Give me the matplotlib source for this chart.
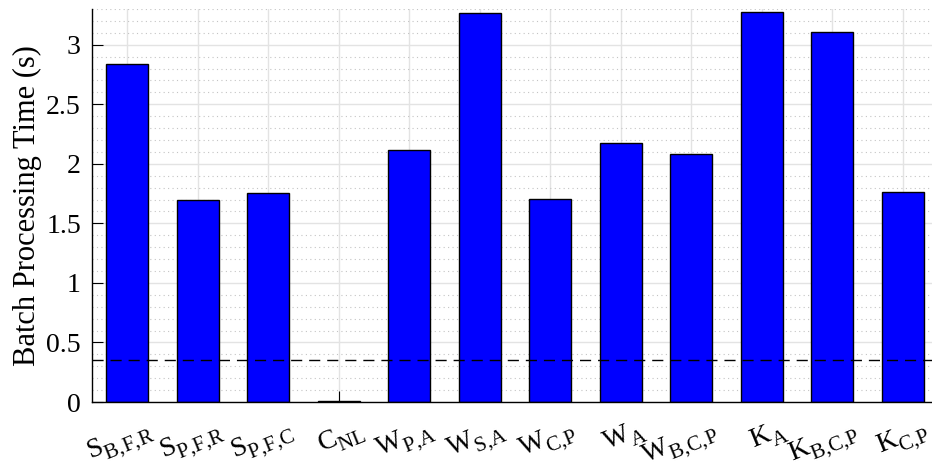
import numpy as np
import matplotlib.pyplot as plt
import matplotlib.transforms as mtransforms
import matplotlib._mathtext as mathtext_core
from matplotlib.ticker import MultipleLocator

plt.rcParams['font.family'] = 'Liberation Serif'
plt.rcParams['mathtext.fontset'] = 'custom'
plt.rcParams['mathtext.rm'] = 'Liberation Serif'
plt.rcParams['mathtext.it'] = 'Liberation Serif'
plt.rcParams['mathtext.default'] = 'rm'
# larger, lower subscripts in the tick labels
mathtext_core.SHRINK_FACTOR = 0.76
mathtext_core.FontConstantsBase.sub1 = 0.55

methods = [r'$S_{B{,}F{,}R}$', r'$S_{P{,}F{,}R}$', r'$S_{P{,}F{,}C}$', r'$C_{NL}$',
           r'$W_{P{,}A}$', r'$W_{S{,}A}$', r'$W_{C{,}P}$', r'$W_{A}$',
           r'$W_{B{,}C{,}P}$', r'$K_{A}$', r'$K_{B{,}C{,}P}$', r'$K_{C{,}P}$']
batch_time = [2.838, 1.697, 1.756, 0.005, 2.112, 3.266, 1.703, 2.179,
              2.081, 3.275, 3.107, 1.765]
threshold = 0.35

x = np.arange(1, len(batch_time) + 1)

fig = plt.figure(figsize=(9.32, 4.76), dpi=100)
ax = fig.add_axes([92 / 932, 74 / 476, 846 / 932, 393 / 476])

ax.bar(x, batch_time, width=0.6, color='#0000ff', edgecolor='black',
       linewidth=1.0, zorder=3)
ax.axhline(threshold, color='black', linestyle=(0, (8, 5)), linewidth=1.0, zorder=4)

ax.set_xlim(0.5, 12.5)
ax.set_ylim(0, 3.3)
ax.set_xticks(x)
ax.set_yticks(np.arange(0, 3.01, 0.5))
ax.set_yticklabels(['0', '0.5', '1', '1.5', '2', '2.5', '3'])
ax.yaxis.set_minor_locator(MultipleLocator(0.1))

ax.grid(True, which='major', color='#e3e3e3', linewidth=1.0, zorder=0)
ax.grid(True, which='minor', axis='y', color='#c4c4c4', linestyle=(0, (1, 3)),
        linewidth=0.8, zorder=0)
ax.set_axisbelow(True)

for s in ['top', 'right']:
    ax.spines[s].set_visible(False)
for s in ['left', 'bottom']:
    ax.spines[s].set_linewidth(1.0)
    ax.spines[s].set_zorder(5)

ax.tick_params(axis='both', which='major', direction='in', length=8, width=0.8,
               labelsize=20)
ax.tick_params(axis='y', which='major', pad=8)
ax.tick_params(axis='y', which='minor', length=0)
ax.tick_params(axis='x', which='major', pad=10)

ax.set_xticklabels(methods, rotation=22, ha='right', va='top',
                   rotation_mode='anchor', fontsize=20)
offset = mtransforms.ScaledTranslation(0.19, 0, fig.dpi_scale_trans)
for lab in ax.get_xticklabels():
    lab.set_transform(lab.get_transform() + offset)

ax.set_ylabel('Batch Processing Time (s)', fontsize=22, labelpad=3)

fig.savefig('out.png', dpi=100)
